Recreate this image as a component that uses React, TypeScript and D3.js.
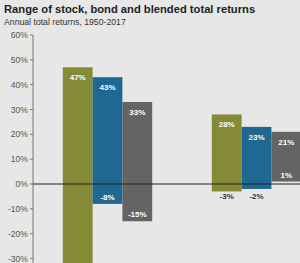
import React from 'react';
import * as d3 from 'd3';

// Chart values
const periods = ['1-yr', '5-yr rolling'];
const seriesNames = ['Stocks', 'Bonds', '50/50 portfolio'];
const seriesColors = ['#858a36', '#1e6891', '#646464'];
const highs = [
  [47, 43, 33],
  [28, 23, 21],
];
const lows = [
  [-39, -8, -15],
  [-3, -2, 1],
];
const yTicks = [60, 50, 40, 30, 20, 10, 0, -10, -20, -30];

const W = 300;
const H = 263;
const axisX = 33;

const App = () => {
  const y = d3.scaleLinear().domain([-30, 60]).range([258.5, 35]);

  const x0 = d3
    .scaleBand<string>()
    .domain(periods)
    .range([axisX, axisX + 298])
    .paddingInner(0.4)
    .paddingOuter(0.2);

  const x1 = d3
    .scaleBand<string>()
    .domain(seriesNames)
    .range([0, x0.bandwidth()]);

  const font = 'Liberation Sans, Arial, sans-serif';

  return (
    <svg
      width={W}
      height={H}
      style={{ position: 'absolute', left: 0, top: 0, background: '#e7e7e7' }}
      fontFamily={font}
    >
      <rect width={W} height={H} fill="#e7e7e7" />
      <text x={4} y={13} fontSize={11.2} fontWeight="bold" fill="#222">
        Range of stock, bond and blended total returns
      </text>
      <text x={4} y={25} fontSize={8.7} fill="#333">
        Annual total returns, 1950-2017
      </text>

      {/* y axis */}
      <line x1={axisX} x2={axisX} y1={y(60)} y2={H} stroke="#777" strokeWidth={1} />
      {yTicks.map((t) => (
        <g key={t}>
          <line x1={axisX - 3} x2={axisX} y1={y(t)} y2={y(t)} stroke="#777" />
          <text
            x={axisX - 5}
            y={y(t) + 3}
            fontSize={8.6}
            textAnchor="end"
            fill="#555"
          >
            {`${t}%`}
          </text>
        </g>
      ))}

      {/* bars */}
      {periods.map((p, gi) =>
        seriesNames.map((s, si) => {
          const hi = highs[gi][si];
          const lo = lows[gi][si];
          const bx = (x0(p) ?? 0) + (x1(s) ?? 0);
          const bw = x1.bandwidth();
          const cx = bx + bw / 2;
          const top = y(hi);
          const bottom = y(lo);
          const loInside = lo >= 0 || lo <= -5;
          const loY = loInside ? bottom - 4 : y(0) + 15;
          return (
            <g key={p + s}>
              <rect x={bx} y={top} width={bw} height={bottom - top} fill={seriesColors[si]} />
              <text
                x={cx}
                y={top + 13}
                fontSize={8}
                fontWeight="bold"
                textAnchor="middle"
                fill="#fff"
              >
                {`${hi}%`}
              </text>
              {loY < H - 2 && (
                <text
                  x={cx}
                  y={loY}
                  fontSize={8}
                  fontWeight="bold"
                  textAnchor="middle"
                  fill={loInside ? '#fff' : '#333'}
                >
                  {`${lo}%`}
                </text>
              )}
            </g>
          );
        })
      )}

      {/* zero line */}
      <line x1={axisX} x2={W} y1={y(0)} y2={y(0)} stroke="#222" strokeWidth={1} />
    </svg>
  );
};

export default App;
